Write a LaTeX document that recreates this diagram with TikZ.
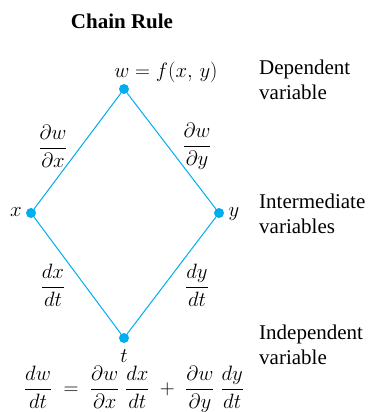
\documentclass[tikz,border=0pt]{standalone}
\usepackage{fontspec}
\setmainfont{Liberation Serif}
\definecolor{diag}{RGB}{0,174,239}
\begin{document}
\begin{tikzpicture}[x=1pt,y=-1pt,
  every node/.style={font=\fontsize{21}{24.5}\selectfont, inner sep=0pt},
  dot/.style={circle, fill=diag, minimum size=10pt, inner sep=0pt},
  edge/.style={draw=diag, line width=1pt},
  side/.style={align=left, anchor=west}]
\useasboundingbox (0,0) rectangle (369,412);
\node[font=\fontsize{21}{24}\selectfont\bfseries] (title) at (122,21) {Chain Rule};
\node[dot] (w) at (124,89) {};
\node[dot] (x) at (31,213) {};
\node[dot] (y) at (219,213) {};
\node[dot] (t) at (124,338) {};
\draw[edge] (w) -- (x) -- (t) -- (y) -- (w);
\node (wl) at (166,72) {$w = f(x,\, y)$};
\node (xl) at (16,212) {$x$};
\node (yl) at (234,214) {$y$};
\node (tl) at (124,356) {$t$};
\node (dwdx) at (53,146) {$\displaystyle\frac{\partial w}{\partial x}$};
\node (dwdy) at (197,146) {$\displaystyle\frac{\partial w}{\partial y}$};
\node (dxdt) at (53,285) {$\displaystyle\frac{dx}{dt}$};
\node (dydt) at (197,285) {$\displaystyle\frac{dy}{dt}$};
\node[side] (dep) at (259,80) {Dependent\\variable};
\node[side] (int) at (259,214) {Intermediate\\variables};
\node[side] (ind) at (259,345) {Independent\\variable};
\node (eq) at (134,389) {$\displaystyle\frac{dw}{dt} \;=\; \frac{\partial w}{\partial x}\;\frac{dx}{dt} \;+\; \frac{\partial w}{\partial y}\;\frac{dy}{dt}$};
\end{tikzpicture}
\end{document}
